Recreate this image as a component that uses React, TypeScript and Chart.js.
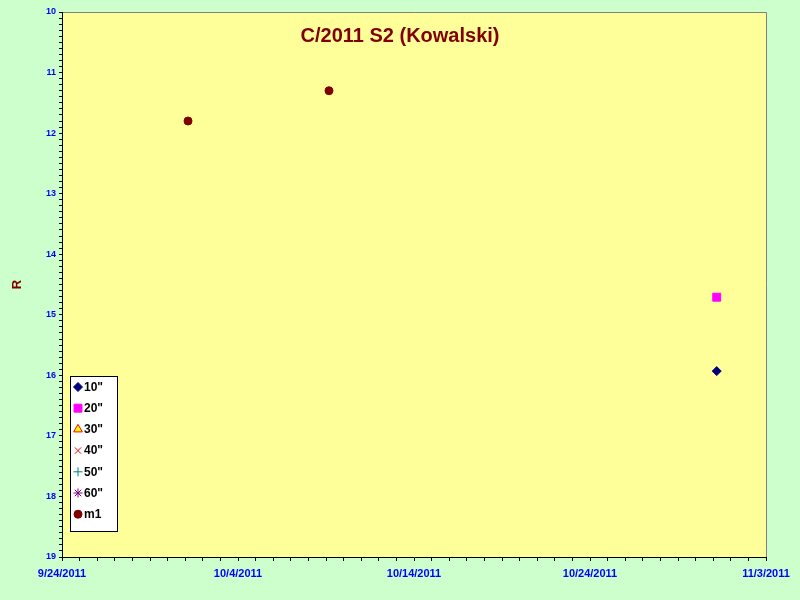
import React, { useEffect, useRef } from "react";
import { Chart, registerables } from "chart.js";
import * as helpers from "chart.js/helpers";

Chart.register(...registerables);

const TITLE = "C/2011 S2 (Kowalski)";
const START_DATE = [2011, 8, 24]; // 9/24/2011 = day 0
const X_MIN = 0;
const X_MAX = 40;
const Y_MIN = 10;
const Y_MAX = 19;

// days since 9/24/2011, magnitude
const s10X = [37.2];
const s10Y = [15.93];
const s20X = [37.2];
const s20Y = [14.71];
const s30X: number[] = [];
const s30Y: number[] = [];
const s40X: number[] = [];
const s40Y: number[] = [];
const s50X: number[] = [];
const s50Y: number[] = [];
const s60X: number[] = [];
const s60Y: number[] = [];
const m1X = [7.16, 15.17];
const m1Y = [11.8, 11.3];

const seriesLabels = ['10"', '20"', '30"', '40"', '50"', '60"', "m1"];

const pts = (xs: number[], ys: number[]) => xs.map((x, i) => ({ x, y: ys[i] }));

const FONT = "Arial, 'Liberation Sans', sans-serif";

const styles = [
  { pointStyle: "rectRot", radius: 4.5, bg: "#000080", border: "#000080" },
  { pointStyle: "rect", radius: 5.6, bg: "#FF00FF", border: "#FF00FF" },
  { pointStyle: "triangle", radius: 5, bg: "#FFFF00", border: "#FF0000" },
  { pointStyle: "crossRot", radius: 4.5, bg: "#FF0000", border: "#FF0000" },
  { pointStyle: "cross", radius: 4.5, bg: "#008080", border: "#008080" },
  { pointStyle: "star", radius: 4.5, bg: "#800080", border: "#800080" },
  { pointStyle: "circle", radius: 4, bg: "#800000", border: "#800000" },
];

function dateLabel(day: number) {
  const d = new Date(START_DATE[0], START_DATE[1], START_DATE[2] + day);
  return `${d.getMonth() + 1}/${d.getDate()}/${d.getFullYear()}`;
}

const bgPlugin = {
  id: "bgPlugin",
  beforeDraw(chart: any) {
    const { ctx, chartArea: a } = chart;
    ctx.save();
    ctx.fillStyle = "#CCFFCC";
    ctx.fillRect(0, 0, chart.width, chart.height);
    ctx.fillStyle = "#FFFF99";
    ctx.fillRect(a.left, a.top, a.right - a.left, a.bottom - a.top);
    ctx.strokeStyle = "#808080";
    ctx.lineWidth = 1;
    ctx.beginPath();
    ctx.moveTo(a.left, a.top + 0.5);
    ctx.lineTo(a.right + 0.5, a.top + 0.5);
    ctx.lineTo(a.right + 0.5, a.bottom);
    ctx.stroke();
    ctx.restore();
  },
};

const overlayPlugin = {
  id: "overlayPlugin",
  afterDraw(chart: any) {
    const { ctx } = chart;
    ctx.save();
    // title
    ctx.fillStyle = "#800000";
    ctx.font = `bold 20px ${FONT}`;
    ctx.textAlign = "center";
    ctx.textBaseline = "middle";
    ctx.fillText(TITLE, 400, 36);
    // legend
    const bx = 70.5, by = 376.5, bw = 47, bh = 155;
    ctx.fillStyle = "#FFFFFF";
    ctx.fillRect(bx, by, bw, bh);
    ctx.strokeStyle = "#000000";
    ctx.lineWidth = 1;
    ctx.strokeRect(bx, by, bw, bh);
    ctx.font = `bold 12px ${FONT}`;
    ctx.textAlign = "left";
    seriesLabels.forEach((lab, i) => {
      const y = 387 + i * 21.2;
      const s = styles[i];
      ctx.fillStyle = s.bg;
      ctx.strokeStyle = s.border;
      ctx.lineWidth = 1;
      helpers.drawPoint(ctx, { pointStyle: s.pointStyle as any, radius: s.radius, rotation: 0, borderWidth: 1 }, 78, y);
      ctx.fillStyle = "#000000";
      ctx.fillText(lab, 84, y + 0.5);
    });
    ctx.restore();
  },
};

export default function App() {
  const ref = useRef<HTMLCanvasElement>(null);
  useEffect(() => {
    const all = [
      pts(s10X, s10Y),
      pts(s20X, s20Y),
      pts(s30X, s30Y),
      pts(s40X, s40Y),
      pts(s50X, s50Y),
      pts(s60X, s60Y),
      pts(m1X, m1Y),
    ];
    const chart = new Chart(ref.current!, {
      type: "scatter",
      data: {
        datasets: all.map((d, i) => ({
          label: seriesLabels[i],
          data: d,
          pointStyle: styles[i].pointStyle as any,
          pointRadius: styles[i].radius,
          pointHoverRadius: styles[i].radius,
          backgroundColor: styles[i].bg,
          borderColor: styles[i].border,
          borderWidth: 1,
          showLine: false,
        })),
      },
      plugins: [bgPlugin, overlayPlugin],
      options: {
        animation: false,
        responsive: false,
        layout: { padding: { top: 12, right: 34, left: 0, bottom: 0 } },
        plugins: { legend: { display: false }, tooltip: { enabled: false }, title: { display: false } },
        scales: {
          x: {
            type: "linear",
            min: X_MIN,
            max: X_MAX,
            afterFit: (s: any) => { s.height = 43; },
            border: { display: true, color: "#000000", width: 1 },
            grid: { drawOnChartArea: false, color: "#000000", tickLength: 4 },
            ticks: {
              stepSize: 1,
              autoSkip: false,
              maxRotation: 0,
              padding: 6,
              color: "#0000FF",
              font: { family: FONT, size: 11, weight: "bold" },
              callback: (v: any) => (Math.round(v) % 10 === 0 ? dateLabel(Math.round(v)) : ""),
            },
          },
          y: {
            type: "linear",
            reverse: true,
            min: Y_MIN,
            max: Y_MAX,
            afterFit: (s: any) => { s.width = 62; },
            border: { display: true, color: "#000000", width: 1 },
            grid: { drawOnChartArea: false, color: "#000000", tickLength: 3 },
            title: {
              display: true,
              text: "R",
              color: "#800000",
              font: { family: FONT, size: 13, weight: "bold" },
              padding: { top: 10, bottom: 0 },
            },
            ticks: {
              stepSize: 0.1,
              autoSkip: false,
              padding: 3,
              color: "#0000FF",
              font: { family: FONT, size: 9, weight: "bold" },
              callback: (v: any) => (Math.abs(v - Math.round(v)) < 1e-6 ? String(Math.round(v)) : ""),
            },
          },
        },
      },
    });
    return () => chart.destroy();
  }, []);
  return (
    <div style={{ position: "fixed", left: 0, top: 0, width: 800, height: 600 }}>
      <canvas ref={ref} width={800} height={600} />
    </div>
  );
}
